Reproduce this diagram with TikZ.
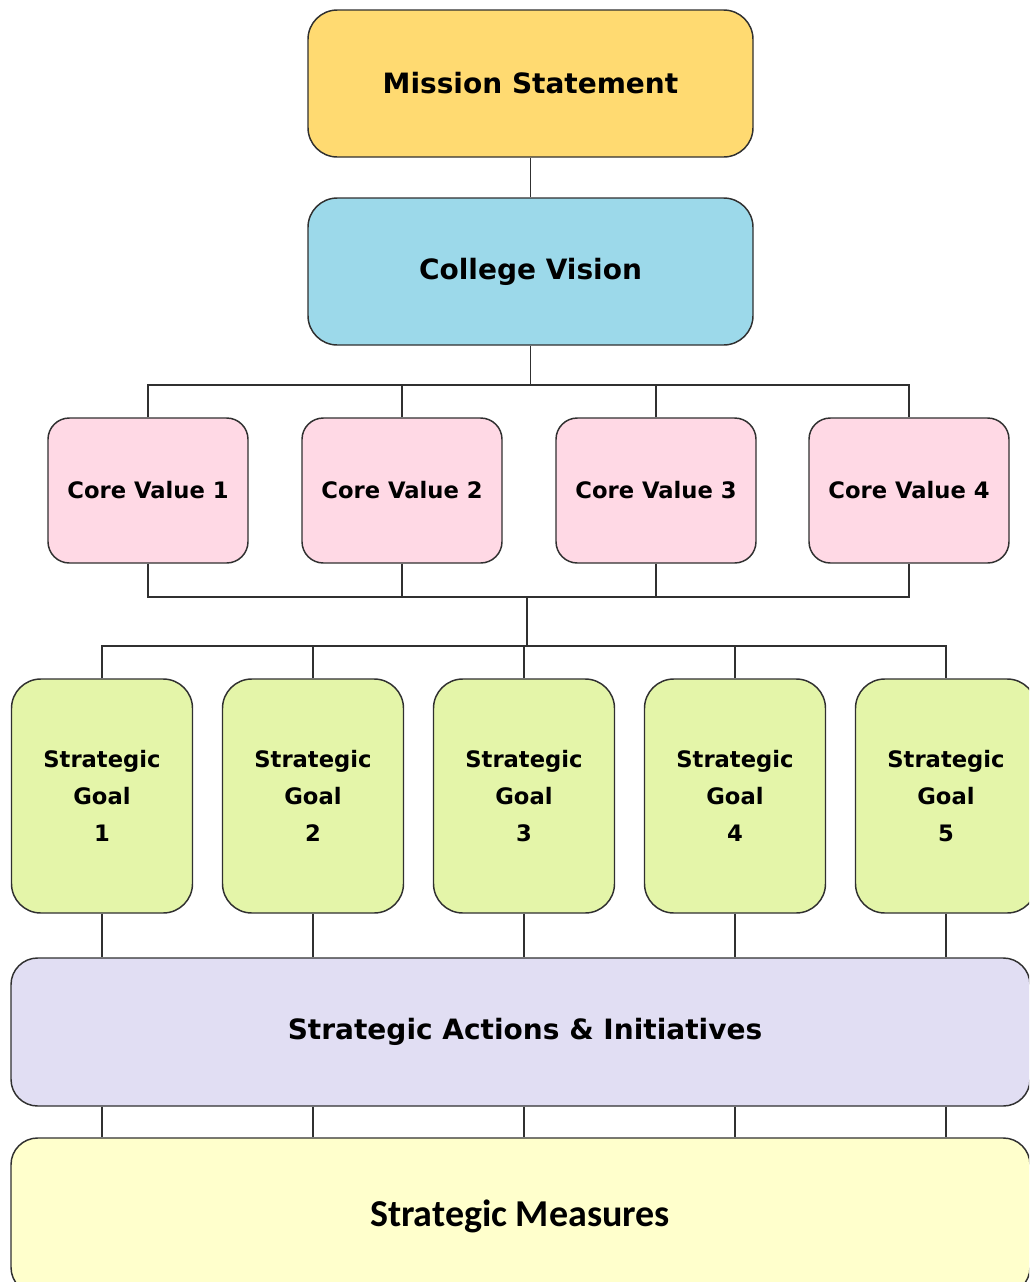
\documentclass[tikz,border=0pt]{standalone}
\usepackage{fontspec}
\setmainfont{DejaVu Sans}
\newfontfamily\calfont{Carlito}
\definecolor{cMission}{HTML}{FFDA71}
\definecolor{cVision}{HTML}{9CD9EA}
\definecolor{cCore}{HTML}{FFD9E5}
\definecolor{cGoal}{HTML}{E4F5A9}
\definecolor{cAct}{HTML}{E1DEF3}
\definecolor{cMeas}{HTML}{FFFFCC}
\definecolor{cLine}{HTML}{303030}
\tikzset{
  boxbase/.style={draw=cLine, line width=1.1pt, align=center, inner sep=0pt, font=\bfseries},
  topbox/.style={boxbase, rounded corners=22pt, minimum width=333.75pt, minimum height=110.25pt, font=\fontsize{21}{25}\bfseries\selectfont},
  corebox/.style={boxbase, fill=cCore, rounded corners=16pt, minimum width=150pt, minimum height=108.75pt, font=\fontsize{17}{20}\bfseries\selectfont},
  goalbox/.style={boxbase, fill=cGoal, rounded corners=22pt, minimum width=135.75pt, minimum height=175.5pt, font=\fontsize{17}{27.6}\bfseries\selectfont},
  widebox/.style={boxbase, rounded corners=20pt, minimum width=764.25pt},
  conn/.style={draw=cLine, line width=1.1pt}
}
\begin{document}
\begin{tikzpicture}[x=0.75pt,y=-0.75pt]
\useasboundingbox (0,0) rectangle (1029,1282);
\clip (0,0) rectangle (1029,1282);
\fill[white] (0,0) rectangle (1029,1282);
% boxes
\node[topbox, fill=cMission] (mission) at (530.5,83.5) {Mission Statement};
\node[topbox, fill=cVision] (vision) at (530.5,271.5) {College Vision};
\node[corebox] (cv1) at (148,490.5) {Core Value 1};
\node[corebox] (cv2) at (402,490.5) {Core Value 2};
\node[corebox] (cv3) at (656,490.5) {Core Value 3};
\node[corebox] (cv4) at (909,490.5) {Core Value 4};
\node[goalbox] (sg1) at (102,796) {Strategic\\Goal\\1};
\node[goalbox] (sg2) at (313,796) {Strategic\\Goal\\2};
\node[goalbox] (sg3) at (524,796) {Strategic\\Goal\\3};
\node[goalbox] (sg4) at (735,796) {Strategic\\Goal\\4};
\node[goalbox] (sg5) at (946,796) {Strategic\\Goal\\5};
\node[widebox, fill=cAct, minimum height=111pt, font=\fontsize{21}{25}\bfseries\selectfont] (act) at (520.5,1032) {};
\node[font=\fontsize{21}{25}\bfseries\selectfont] (acttext) at (525,1032) {Strategic Actions \& Initiatives};
\node[widebox, fill=cMeas, minimum height=117pt] (meas) at (520.5,1216) {};
\node[font=\fontsize{28.5}{32}\calfont\bfseries\selectfont] (meastext) at (520,1216) {Strategic Measures};
% connectors
\coordinate (jv) at (530.5,385);
\coordinate (jc) at (527,597);
\coordinate (jg) at (527,646);
\draw[conn] (mission) -- (vision);
\draw[conn] (vision.south) -- (jv);
\draw[conn] (cv1.north) |- (jv) -| (cv4.north);
\draw[conn] (cv2.north) |- (jv);
\draw[conn] (cv3.north) |- (jv);
\draw[conn] (cv1.south) |- (jc) -| (cv4.south);
\draw[conn] (cv2.south) |- (jc);
\draw[conn] (cv3.south) |- (jc);
\draw[conn] (jc) -- (jg);
\draw[conn] (sg1.north) |- (jg) -| (sg5.north);
\draw[conn] (sg2.north) |- (jg);
\draw[conn] (sg3.north) |- (jg);
\draw[conn] (sg4.north) |- (jg);
\foreach \g in {sg1,sg2,sg3,sg4,sg5}{
  \draw[conn] (\g.south) -- (\g.south |- act.north);
  \draw[conn] (\g.south |- act.south) -- (\g.south |- meas.north);
}
\end{tikzpicture}
\end{document}
